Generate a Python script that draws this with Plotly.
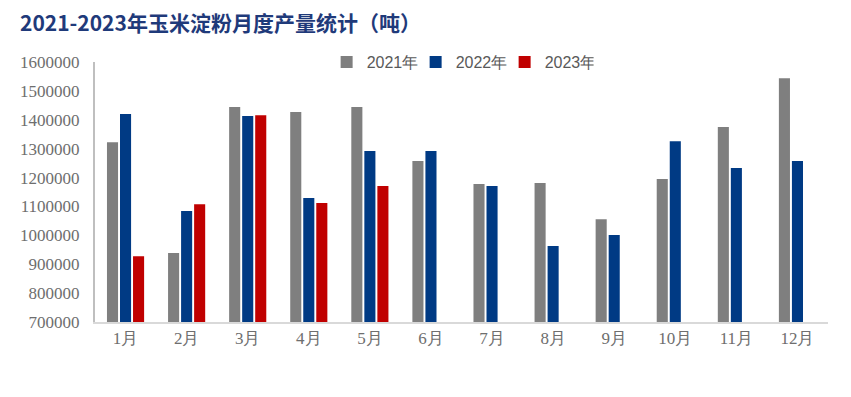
import plotly.graph_objects as go

months = ["1月", "2月", "3月", "4月", "5月", "6月", "7月", "8月", "9月", "10月", "11月", "12月"]
series_names = ["2021年", "2022年", "2023年"]
v2021 = [1322000, 939000, 1444000, 1427000, 1444000, 1257000, 1178000, 1181000, 1056000, 1195000, 1375000, 1544000]
v2022 = [1420000, 1084000, 1413000, 1129000, 1292000, 1292000, 1171000, 963000, 1001000, 1326000, 1233000, 1257000]
v2023 = [928000, 1108000, 1416000, 1112000, 1171000, None, None, None, None, None, None, None]
colors = ["#7F7F7F", "#003A84", "#C00000"]

y_min, y_max, y_step = 700000, 1600000, 100000
y_ticks = list(range(y_min, y_max + 1, y_step))

SERIF = "Liberation Serif, Times New Roman, serif"

fig = go.Figure()
for name, vals, col in zip(series_names, [v2021, v2022, v2023], colors):
    fig.add_trace(go.Bar(x=months, y=vals, name=name, marker=dict(color=col, line=dict(width=0))))

fig.update_layout(
    width=843, height=389,
    margin=dict(l=81, r=23, t=54, b=75),
    paper_bgcolor="white", plot_bgcolor="white",
    barmode="group", bargap=0.36, bargroupgap=0.15,
    title=dict(text="<b>2021-2023年玉米淀粉月度产量统计（吨）</b>",
               font=dict(family="Noto Sans CJK SC", size=21, color="#1F3A7A"),
               x=0, xref="container", xanchor="left", y=1, yref="container", yanchor="top",
               pad=dict(l=12, t=8)),
    legend=dict(orientation="h", x=0.316, xanchor="left", y=1.0, yanchor="middle",
                font=dict(family="Liberation Sans", size=16, color="#595959"),
                bgcolor="rgba(0,0,0,0)", itemwidth=30, entrywidth=44, entrywidthmode="pixels",
                traceorder="normal"),
    font=dict(family=SERIF, size=17, color="#6E6E6E"),
)
fig.update_xaxes(showline=True, linecolor="#D9D9D9", linewidth=2, showgrid=False, ticks="",
                 tickfont=dict(family=SERIF, size=17, color="#6E6E6E"))
fig.update_yaxes(range=[y_min, y_max], tickvals=y_ticks, tickformat="d", showline=True,
                 linecolor="#BFBFBF", linewidth=2, showgrid=False, ticks="", zeroline=False,
                 ticklabelstandoff=10,
                 tickfont=dict(family=SERIF, size=17, color="#6E6E6E"))

fig.write_html("out.html")
